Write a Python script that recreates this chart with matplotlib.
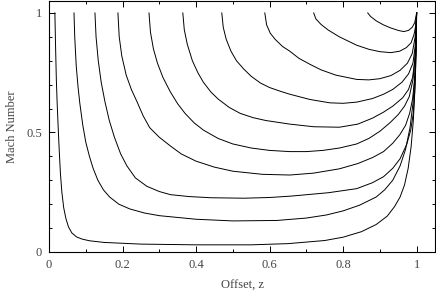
import matplotlib
matplotlib.use("Agg")
import matplotlib.pyplot as plt
from matplotlib.ticker import MultipleLocator

# curves: (offset z, Mach number) pairs
curve_a_z = [0.016, 0.018, 0.02, 0.022, 0.025, 0.028, 0.031, 0.035, 0.04, 0.046, 0.053, 0.062, 0.075, 0.09, 0.11, 0.15, 0.25, 0.4, 0.55, 0.65, 0.75, 0.8, 0.85, 0.89, 0.92, 0.94, 0.955, 0.967, 0.977, 0.985, 0.991, 0.995, 0.998, 1.0]
curve_a_m = [1.0, 0.85, 0.72, 0.63, 0.52, 0.42, 0.33, 0.25, 0.185, 0.14, 0.105, 0.08, 0.063, 0.054, 0.047, 0.04, 0.033, 0.03, 0.03, 0.035, 0.048, 0.062, 0.085, 0.115, 0.15, 0.19, 0.23, 0.28, 0.35, 0.44, 0.55, 0.67, 0.82, 1.0]

curve_b_z = [0.068, 0.07, 0.074, 0.079, 0.084, 0.092, 0.1, 0.11, 0.12, 0.133, 0.148, 0.165, 0.19, 0.22, 0.26, 0.3, 0.4, 0.5, 0.62, 0.7, 0.755, 0.8, 0.845, 0.89, 0.913, 0.935, 0.955, 0.97, 0.982, 0.99, 0.995, 0.998, 1.0]
curve_b_m = [1.0, 0.9, 0.78, 0.69, 0.62, 0.53, 0.46, 0.4, 0.35, 0.3, 0.26, 0.23, 0.2, 0.18, 0.163, 0.152, 0.137, 0.13, 0.132, 0.142, 0.155, 0.172, 0.196, 0.23, 0.26, 0.3, 0.36, 0.43, 0.52, 0.62, 0.73, 0.85, 1.0]

curve_c_z = [0.125, 0.128, 0.134, 0.142, 0.152, 0.164, 0.178, 0.195, 0.212, 0.235, 0.266, 0.3, 0.33, 0.38, 0.44, 0.53, 0.6, 0.66, 0.76, 0.837, 0.88, 0.91, 0.935, 0.955, 0.973, 0.984, 0.991, 0.996, 0.999, 1.0]
curve_c_m = [1.0, 0.9, 0.8, 0.71, 0.63, 0.55, 0.48, 0.41, 0.36, 0.31, 0.275, 0.253, 0.24, 0.232, 0.227, 0.225, 0.228, 0.234, 0.248, 0.265, 0.29, 0.315, 0.35, 0.39, 0.45, 0.51, 0.58, 0.7, 0.85, 1.0]

curve_d_z = [0.1875, 0.191, 0.198, 0.21, 0.224, 0.239, 0.256, 0.274, 0.3, 0.329, 0.36, 0.4, 0.45, 0.5, 0.58, 0.655, 0.72, 0.79, 0.84, 0.88, 0.91, 0.935, 0.954, 0.97, 0.981, 0.989, 0.995, 0.998, 1.0]
curve_d_m = [1.0, 0.9, 0.82, 0.74, 0.68, 0.63, 0.57, 0.52, 0.48, 0.445, 0.41, 0.38, 0.355, 0.338, 0.325, 0.322, 0.33, 0.348, 0.37, 0.395, 0.42, 0.455, 0.49, 0.53, 0.58, 0.64, 0.73, 0.84, 1.0]

curve_e_z = [0.272, 0.276, 0.284, 0.295, 0.31, 0.33, 0.35, 0.37, 0.395, 0.42, 0.46, 0.5, 0.55, 0.6, 0.655, 0.7, 0.745, 0.79, 0.837, 0.87, 0.9, 0.927, 0.95, 0.967, 0.98, 0.99, 0.996, 1.0]
curve_e_m = [1.0, 0.92, 0.85, 0.79, 0.73, 0.67, 0.62, 0.58, 0.54, 0.51, 0.475, 0.452, 0.435, 0.425, 0.42, 0.42, 0.425, 0.435, 0.452, 0.475, 0.505, 0.54, 0.575, 0.61, 0.65, 0.72, 0.82, 1.0]

curve_f_z = [0.364, 0.368, 0.376, 0.39, 0.405, 0.42, 0.44, 0.46, 0.49, 0.52, 0.555, 0.59, 0.655, 0.72, 0.79, 0.84, 0.88, 0.91, 0.935, 0.962, 0.978, 0.989, 0.995, 0.998, 1.0]
curve_f_m = [1.0, 0.93, 0.87, 0.8, 0.75, 0.71, 0.67, 0.64, 0.605, 0.58, 0.562, 0.55, 0.535, 0.524, 0.522, 0.535, 0.56, 0.585, 0.61, 0.645, 0.68, 0.73, 0.8, 0.88, 1.0]

curve_g_z = [0.47, 0.474, 0.482, 0.495, 0.51, 0.53, 0.55, 0.575, 0.6, 0.63, 0.655, 0.71, 0.764, 0.8, 0.837, 0.88, 0.91, 0.935, 0.96, 0.978, 0.99, 0.996, 1.0]
curve_g_m = [1.0, 0.94, 0.89, 0.84, 0.8, 0.765, 0.735, 0.707, 0.688, 0.672, 0.66, 0.638, 0.624, 0.622, 0.627, 0.642, 0.66, 0.68, 0.71, 0.745, 0.79, 0.86, 1.0]

curve_h_z = [0.587, 0.592, 0.602, 0.615, 0.635, 0.655, 0.68, 0.71, 0.74, 0.78, 0.837, 0.87, 0.9, 0.93, 0.955, 0.975, 0.988, 0.996, 1.0]
curve_h_m = [1.0, 0.95, 0.915, 0.89, 0.86, 0.84, 0.81, 0.785, 0.762, 0.74, 0.722, 0.72, 0.725, 0.738, 0.76, 0.79, 0.83, 0.9, 1.0]

curve_i_z = [0.72, 0.726, 0.74, 0.76, 0.79, 0.837, 0.87, 0.9, 0.93, 0.954, 0.972, 0.985, 0.993, 0.998, 1.0]
curve_i_m = [1.0, 0.975, 0.952, 0.928, 0.9, 0.865, 0.848, 0.838, 0.834, 0.84, 0.855, 0.875, 0.91, 0.95, 1.0]

curve_j_z = [0.867, 0.875, 0.89, 0.91, 0.93, 0.95, 0.965, 0.978, 0.988, 0.995, 1.0]
curve_j_m = [1.0, 0.985, 0.967, 0.95, 0.937, 0.927, 0.922, 0.927, 0.94, 0.96, 1.0]

curves = [
    (curve_a_z, curve_a_m), (curve_b_z, curve_b_m), (curve_c_z, curve_c_m),
    (curve_d_z, curve_d_m), (curve_e_z, curve_e_m), (curve_f_z, curve_f_m),
    (curve_g_z, curve_g_m), (curve_h_z, curve_h_m), (curve_i_z, curve_i_m),
    (curve_j_z, curve_j_m),
]

plt.rcParams['font.family'] = ['Liberation Serif', 'DejaVu Serif']

fig = plt.figure(figsize=(4.36, 2.92), dpi=100)
ax = fig.add_axes([49 / 436, 1 - 252 / 292, 386 / 436, 251 / 292])

for z, m in curves:
    ax.plot(z, m, color='black', linewidth=0.7)

ax.set_xlim(0, 1.05)
ax.set_ylim(0, 1.05)
ax.xaxis.set_major_locator(MultipleLocator(0.2))
ax.xaxis.set_minor_locator(MultipleLocator(0.1))
ax.yaxis.set_major_locator(MultipleLocator(0.5))
ax.yaxis.set_minor_locator(MultipleLocator(0.1))
ax.set_xticks([0, 0.2, 0.4, 0.6, 0.8, 1.0])
ax.set_xticklabels(['0', '0.2', '0.4', '0.6', '0.8', '1'])
ax.set_yticks([0, 0.5, 1.0])
ax.set_yticklabels(['0', '0.5', '1'])
ax.tick_params(which='both', direction='in', top=True, right=True,
               labelsize=9, labelcolor='#444444', width=0.7)
ax.tick_params(which='major', length=4.5, pad=5)
ax.tick_params(which='minor', length=2.3)
for s in ax.spines.values():
    s.set_linewidth(0.8)

ax.set_xlabel('Offset, z', fontsize=9, color='#444444', labelpad=6)
ax.set_ylabel('Mach Number', fontsize=9, color='#444444', labelpad=6)

fig.savefig('out.png', dpi=100)
